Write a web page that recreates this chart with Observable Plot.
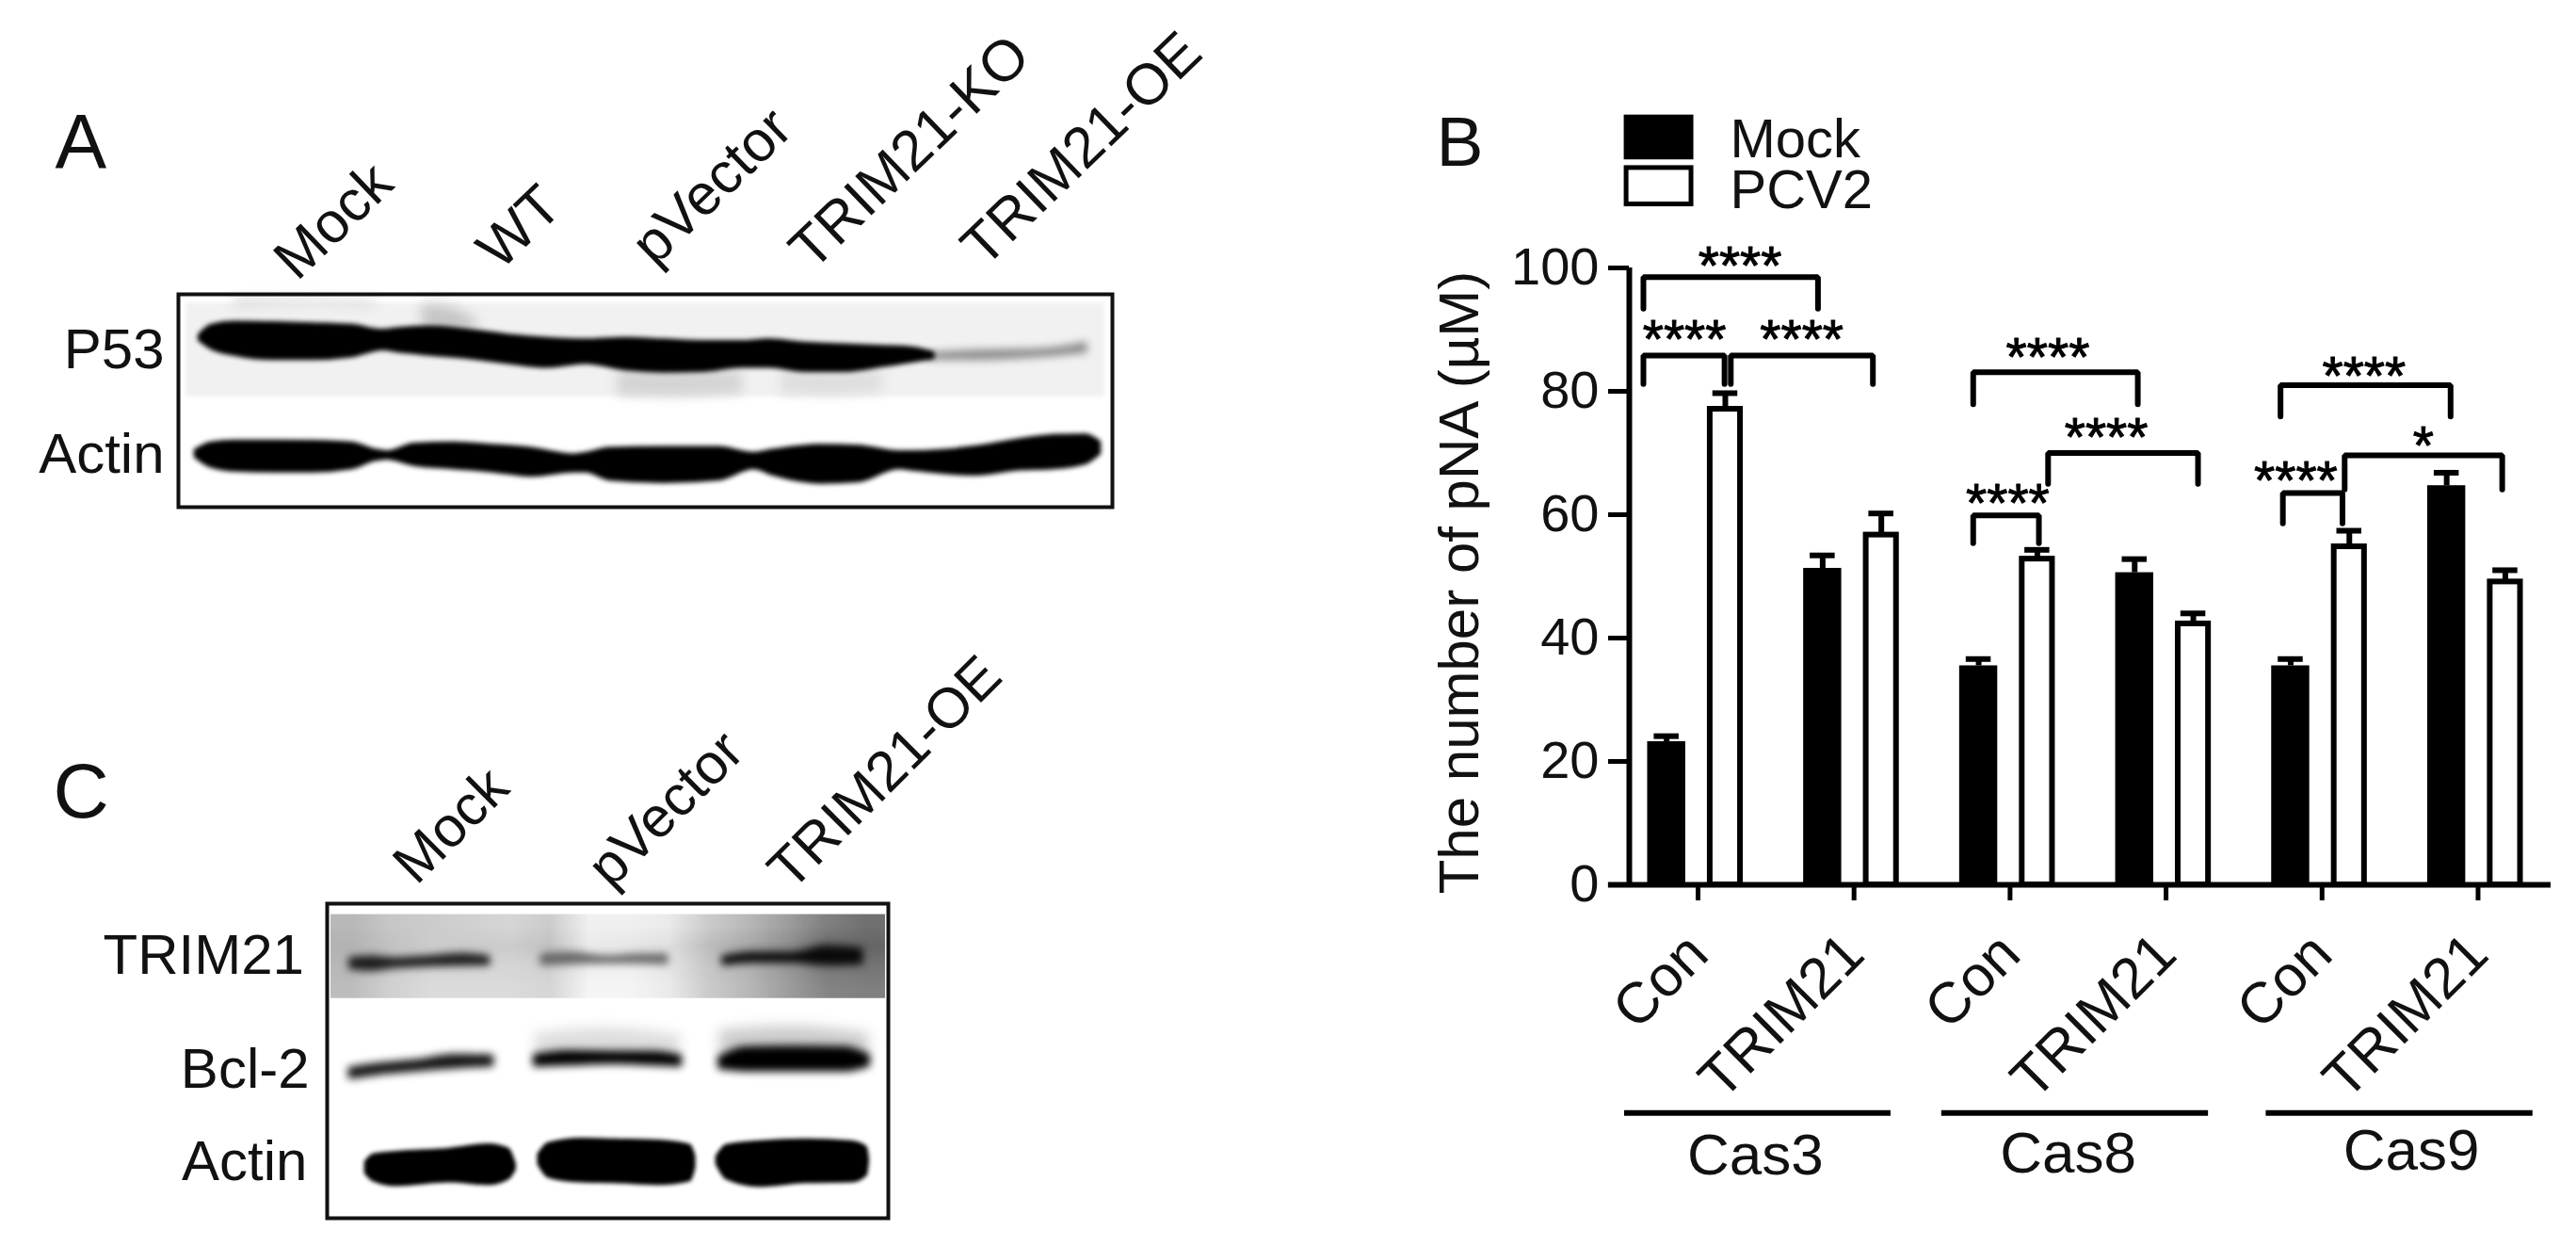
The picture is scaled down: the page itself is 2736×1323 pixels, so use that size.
<!DOCTYPE html>
<html><head><meta charset="utf-8">
<script src="https://cdn.jsdelivr.net/npm/d3@7"></script>
<script src="https://cdn.jsdelivr.net/npm/@observablehq/plot@0.6"></script>
<style>html,body{margin:0;background:#fff}#page{position:relative;width:2736px;height:1323px;overflow:hidden}</style>
</head><body><div id="page"></div>
<script>
const FONT = "Liberation Sans";
// ---- Panel B data
const groups = ["Cas3","Cas8","Cas9"];
const treatments = ["Con","TRIM21","Con","TRIM21","Con","TRIM21"];
const mockValues = [23.2,51.3,35.5,50.6,35.5,64.7];
const mockCaps   = [24.1,53.4,36.6,52.8,36.6,66.8];
const pcv2Values = [77.1,56.7,52.8,42.3,54.8,49.1];
const pcv2Caps   = [79.7,60.2,54.3,44.0,57.4,51.0];
const bracketLeft  = [-0.332,-0.332,0.228,1.782,1.782,2.262,3.752,3.767,4.163];
const bracketRight = [0.787,0.188,1.139,2.837,2.203,3.223,4.842,4.149,5.173];
const bracketTop   = [98.5,85.8,85.8,83.1,59.9,70.0,81.0,63.5,69.6];
const bracketFoot  = [93.4,81.2,81.2,77.9,55.4,65.0,75.9,58.6,64.1];
const starText = ["****","****","****","****","****","****","****","****","*"];
const starX    = [0.287,-0.069,0.683,2.26,2.003,2.635,4.287,3.85,4.668];
const starY    = [100.1,88.2,88.2,85.3,61.6,72.4,82.3,65.3,71];
const groupX1 = [-0.453,1.58,3.66], groupX2 = [1.255,3.29,5.37], groupLabelX = [0.386,2.39,4.59], groupLabelY = [-47,-46.7,-46.2];
const legendNames = ["Mock","PCV2"];
// ---- Panel A data (gel positions)
const laneA = ["Mock","WT","pVector","TRIM21-KO","TRIM21-OE"];
const laneAx = [380,640,838,1040,1260];
const laneAy = [810,778,765,780,770];
const p53X = [255,270,300,350,400,450,490,510,550,600,650,700,750,800,850,900,950,985,1030,1080,1130,1170,1195];
const p53T = [975,945,935,937,940,945,960,955,950,960,975,985,990,985,990,995,995,990,1000,1005,1010,1015,1030];
const p53B = [990,1015,1035,1048,1048,1040,1018,1025,1035,1045,1060,1072,1060,1080,1087,1085,1072,1072,1085,1085,1070,1055,1045];
const p53TailX = [1185,1250,1300,1350,1392];
const p53TailT = [1028,1020,1018,1012,995];
const p53TailB = [1050,1052,1048,1040,1030];
const actinAX = [250,270,300,350,400,450,480,495,530,580,630,680,735,750,780,850,920,965,990,1050,1100,1150,1170,1250,1300,1350,1390,1408];
const actinAT = [1330,1308,1302,1302,1303,1308,1330,1335,1312,1308,1315,1325,1345,1340,1325,1322,1322,1340,1330,1315,1318,1335,1335,1320,1300,1285,1283,1305];
const actinAB = [1350,1380,1392,1395,1395,1385,1360,1355,1375,1385,1395,1408,1395,1395,1420,1428,1420,1385,1405,1430,1425,1385,1390,1405,1390,1385,1370,1340];
// ---- Panel C data
const laneC = ["Mock","pVector","TRIM21-OE"];
const laneCx = [630,925,1198];
const laneCy = [605,615,622];
const trimShade = [
  72,78,80,82,84,80,94,94,92,80,72,62,50,44,
  70,76,80,80,80,76,92,90,88,74,66,56,42,40,
  72,80,84,84,84,82,94,94,90,78,70,60,48,46,
  74,82,86,86,86,84,96,96,92,80,72,62,52,50];
const trimMockX=[530,560,600,650,700,740], trimMockT=[800,795,800,795,788,795], trimMockB=[825,830,822,818,816,815];
const trimVecX=[820,860,920,970,1010], trimVecT=[790,785,795,790,790], trimVecB=[815,812,810,810,812];
const trimOeX=[1095,1140,1200,1250,1305], trimOeT=[795,785,785,768,775], trimOeB=[815,808,808,815,812];
const bclMockX=[530,570,630,690,745], bclMockT=[1095,1085,1075,1060,1062], bclMockB=[1118,1108,1098,1090,1085];
const bclVecX=[810,860,930,990,1030], bclVecT=[1060,1050,1052,1052,1062], bclVecB=[1085,1082,1078,1082,1085];
const bclOeX=[1090,1130,1200,1280,1315], bclOeT=[1065,1040,1038,1040,1060], bclOeB=[1092,1098,1098,1098,1085];
const actMockX=[553,565,600,680,740,770,780], actMockT=[1345,1325,1318,1310,1298,1310,1350], actMockB=[1375,1395,1408,1398,1405,1390,1365];
const actVecX=[815,830,880,930,1000,1045,1052], actVecT=[1325,1295,1283,1285,1288,1300,1330], actVecB=[1350,1385,1398,1400,1405,1395,1360];
const actOeX=[1085,1100,1150,1220,1290,1312,1315], actOeT=[1330,1300,1290,1285,1290,1305,1335], actOeB=[1350,1390,1410,1400,1398,1380,1345];

function band(xs, ts, bs, fill, blur, grow = 0) {
  return Plot.areaY(xs.map((x,i)=>({x, t:ts[i], b:bs[i]})), {x:"x", y1:"t", y2:"b", fill, stroke:fill, strokeWidth:grow, curve:"monotone-x", imageFilter:`blur(${blur}px)`});
}
const page = document.getElementById("page");
const base = {fontFamily:FONT, background:"transparent", position:"absolute", overflow:"visible"};

// ---- Panel A
page.append(Plot.plot({
  width:1300, height:640, marginLeft:189, marginRight:119, marginTop:312, marginBottom:102,
  style:{...base,left:"0px",top:"0px"},
  x:{domain:[228,1424],axis:null}, y:{domain:[1505,848],axis:null},
  marks:[
    Plot.rect([0],{x1:()=>238,x2:()=>1414,y1:()=>875,y2:()=>1165,fill:"#f1f1f1",imageFilter:"blur(2px)"}),
    band([540,570,610],[880,885,930],[950,965,960],"#c4c4c4",7),
    band([790,860,950],[1085,1085,1085],[1160,1165,1155],"#d4d4d4",6),
    band([1000,1060,1130],[1085,1085,1085],[1155,1160,1150],"#dedede",6),
    band([300,400,480],[860,860,870],[890,880,890],"#dcdcdc",6),
    band(p53TailX,p53TailT,p53TailB,"#8a8a8a",4),
    band(p53X,p53T,p53B,"#000",2.5,3),
    band(actinAX,actinAT,actinAB,"#000",2.5,3),
    Plot.frame({stroke:"#111",strokeWidth:4}),
    Plot.text(laneA,{x:(d,i)=>laneAx[i],y:(d,i)=>laneAy[i],text:d=>d,rotate:-44,textAnchor:"start",lineAnchor:"bottom",fontSize:61,fill:"#111"}),
    Plot.text(["P53","Actin"],{x:()=>210,y:(d,i)=>[1075,1400][i],text:d=>d,textAnchor:"end",lineAnchor:"bottom",fontSize:60,fill:"#111"}),
    Plot.text(["A"],{x:()=>70,y:()=>458,text:d=>d,textAnchor:"start",lineAnchor:"bottom",fontSize:82,fill:"#111"})
  ]
}));

// ---- Panel C
page.append(Plot.plot({
  width:1100, height:663, marginLeft:347, marginRight:157, marginTop:299, marginBottom:30,
  style:{...base,left:"0px",top:"660px"},
  x:{domain:[495,1345],axis:null}, y:{domain:[1495,652],axis:null},
  color:{type:"linear",domain:[0,100],range:["#000","#fff"]},
  marks:[
    Plot.raster(trimShade,{width:14,height:4,x1:500,x2:1340,y1:680,y2:905}),
    band(trimMockX,trimMockT,trimMockB,"#1c1c1c",4,3),
    band(trimVecX,trimVecT,trimVecB,"#666",4.5,3),
    band(trimOeX,trimOeT,trimOeB,"#0a0a0a",4,3),
    band([810,920,1030],[1000,985,1005],[1060,1060,1060],"#ddd",7),
    band([1090,1200,1315],[990,980,1000],[1060,1060,1060],"#ccc",7),
    band(bclMockX,bclMockT,bclMockB,"#151515",4,4),
    band(bclVecX,bclVecT,bclVecB,"#000",4,4),
    band(bclOeX,bclOeT,bclOeB,"#000",4,4),
    band(actMockX,actMockT,actMockB,"#000",2,2),
    band(actVecX,actVecT,actVecB,"#000",2,2),
    band(actOeX,actOeT,actOeB,"#000",2,2),
    Plot.frame({stroke:"#111",strokeWidth:4}),
    Plot.text(laneC,{x:(d,i)=>laneCx[i],y:(d,i)=>laneCy[i],text:d=>d,rotate:-45,textAnchor:"start",lineAnchor:"bottom",fontSize:60,fill:"#111"}),
    Plot.text(["TRIM21","Bcl-2","Actin"],{x:(d,i)=>[460,468,465][i],y:(d,i)=>[840,1145,1392][i],text:d=>d,textAnchor:"end",lineAnchor:"bottom",fontSize:60,fill:"#111"}),
    Plot.text(["C"],{x:()=>80,y:()=>420,text:d=>d,textAnchor:"start",lineAnchor:"bottom",fontSize:82,fill:"#111"})
  ]
}));

// ---- Panel B
const barTable = treatments.flatMap((t,i)=>[
  {i,series:"Mock",pos:i-0.183,value:mockValues[i],cap:mockCaps[i]},
  {i,series:"PCV2",pos:i+0.193,value:pcv2Values[i],cap:pcv2Caps[i]}
]);
const mockBars = barTable.filter(d=>d.series==="Mock"), pcvBars = barTable.filter(d=>d.series==="PCV2");
const bracketPts = bracketLeft.flatMap((l,i)=>[
  {id:i,x:l,y:bracketFoot[i]},{id:i,x:l,y:bracketTop[i]},{id:i,x:bracketRight[i],y:bracketTop[i]},{id:i,x:bracketRight[i],y:bracketFoot[i]}
]);
page.append(Plot.plot({
  width:1286, height:1223, marginLeft:280, marginRight:27, marginTop:184, marginBottom:384,
  style:{...base,left:"1450px",top:"100px"},
  x:{type:"linear",domain:[-0.4225,5.486],axis:null}, y:{domain:[0,100],axis:null},
  marks:[
    Plot.ruleX(barTable,{x:"pos",y1:"value",y2:"cap",stroke:"#000",strokeWidth:6}),
    Plot.ruleY(barTable,{y:"cap",x1:d=>d.pos-0.08,x2:d=>d.pos+0.08,stroke:"#000",strokeWidth:6}),
    Plot.rect(mockBars,{x1:d=>d.pos-0.122,x2:d=>d.pos+0.122,y1:()=>0,y2:"value",fill:"#000"}),
    Plot.rect(pcvBars,{x1:d=>d.pos-0.097,x2:d=>d.pos+0.097,y1:()=>0,y2:"value",fill:"#fff",stroke:"#000",strokeWidth:6}),
    Plot.line(bracketPts,{x:"x",y:"y",z:"id",stroke:"#000",strokeWidth:6,strokeLinejoin:"miter"}),
    Plot.text(starText,{x:(d,i)=>starX[i],y:(d,i)=>starY[i],text:d=>d,fontSize:57,fill:"#000",stroke:"#000",strokeWidth:1}),
    Plot.ruleX([0],{x:()=>-0.4225,y1:()=>0,y2:()=>100,strokeWidth:6,stroke:"#000"}),
    Plot.ruleY([0],{y:()=>0,x1:()=>-0.556,x2:()=>5.486,strokeWidth:6,stroke:"#000"}),
    Plot.axisY({ticks:[0,20,40,60,80,100],tickSize:22,tickPadding:10,fontSize:56,strokeWidth:5,stroke:"#000",fill:"#111",label:null}),
    Plot.text(["The number of pNA (µM)"],{x:()=>-1.39,y:()=>49,text:d=>d,rotate:-90,lineAnchor:"bottom",fontSize:60,fill:"#111"}),
    Plot.axisX({ticks:[0,1,2,3,4,5],tickFormat:i=>treatments[i],tickSize:17,tickPadding:46,tickRotate:-45,fontSize:61,strokeWidth:5,stroke:"#000",fill:"#111",label:null,dx:3}),
    Plot.ruleY(groups,{y:()=>-37,x1:(d,i)=>groupX1[i],x2:(d,i)=>groupX2[i],stroke:"#000",strokeWidth:6}),
    Plot.text(groups,{x:(d,i)=>groupLabelX[i],y:(d,i)=>groupLabelY[i],text:d=>d,lineAnchor:"bottom",fontSize:62,fill:"#111"}),
    Plot.rect(legendNames,{x1:()=>-0.44,x2:()=>-0.024,y1:(d,i)=>[117.9,110.3][i],y2:(d,i)=>[124.4,116.2][i],fill:(d,i)=>["#000","#fff"][i],stroke:"#000",strokeWidth:5}),
    Plot.text(legendNames,{x:()=>0.223,y:(d,i)=>[118,109.7][i],text:d=>d,textAnchor:"start",lineAnchor:"bottom",fontSize:58,fill:"#111"}),
    Plot.text(["B"],{x:()=>-1.66,y:()=>116.5,text:d=>d,textAnchor:"start",lineAnchor:"bottom",fontSize:75,fill:"#111"})
  ]
}));
</script></body></html>
